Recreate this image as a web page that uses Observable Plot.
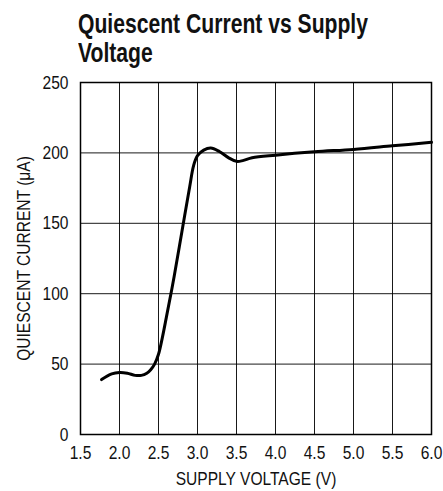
<!DOCTYPE html>
<html>
<head>
<meta charset="utf-8">
<script src="https://cdn.jsdelivr.net/npm/d3@7"></script>
<script src="https://cdn.jsdelivr.net/npm/@observablehq/plot@0.6"></script>
<style>
  html, body { margin: 0; padding: 0; background: #fff; }
  #title {
    height: 70px; box-sizing: border-box; padding: 9px 0 0 78px;
    font-family: "Liberation Sans", Arial, sans-serif;
    font-weight: bold; font-size: 28px; line-height: 29px; color: #111;
    white-space: nowrap; overflow: hidden;
  }
  #title span { display: inline-block; transform-origin: 0 0; }
  svg { display: block; }
</style>
</head>
<body>
<div id="title"><span id="t1">Quiescent Current vs Supply</span><br><span id="t2">Voltage</span></div>
<div id="chart"></div>
<script>
const voltage = [1.77, 1.9, 2.0, 2.1, 2.2, 2.28, 2.35, 2.4, 2.45, 2.5, 2.55, 2.6, 2.7, 2.8, 2.9, 2.95, 3.0, 3.08, 3.17, 3.28, 3.4, 3.5, 3.58, 3.7, 4.0, 4.5, 5.0, 5.5, 6.0];
const current = [39, 43, 44, 43.5, 42, 42, 43.5, 46, 50, 57, 69, 83, 112, 144, 176, 191, 198, 202, 203.5, 201, 196.5, 194, 194.5, 196.5, 198.4, 200.8, 202.5, 205, 207.5];
const xTicks = [1.5, 2.0, 2.5, 3.0, 3.5, 4.0, 4.5, 5.0, 5.5, 6.0];
const yTicks = [0, 50, 100, 150, 200, 250];

const data = voltage.map((v, i) => ({v, c: current[i]}));
const font = '"Liberation Sans", Arial, sans-serif';

const chart = Plot.plot({
  width: 443, height: 421,
  marginTop: 12, marginLeft: 80, marginRight: 12, marginBottom: 57,
  style: {fontFamily: font, fontSize: "19px", color: "#111", background: "#fff"},
  x: {domain: [1.5, 6.0]},
  y: {domain: [0, 250]},
  marks: [
    Plot.gridX(xTicks, {stroke: "#000", strokeOpacity: 0.9, strokeWidth: 1}),
    Plot.gridY(yTicks, {stroke: "#000", strokeOpacity: 0.9, strokeWidth: 1}),
    Plot.frame({stroke: "#000", strokeWidth: 1.5}),
    Plot.axisX(xTicks, {tickSize: 0, tickPadding: 11, tickFormat: d => d.toFixed(1), fontSize: 19,
      label: "SUPPLY VOLTAGE (V)", labelAnchor: "center", labelOffset: 50, labelArrow: "none"}),
    Plot.axisY(yTicks, {tickSize: 0, tickPadding: 12, fontSize: 19,
      label: "QUIESCENT CURRENT (μA)", labelAnchor: "center", labelOffset: 64, labelArrow: "none"}),
    Plot.line(data, {x: "v", y: "c", curve: "catmull-rom", stroke: "#000", strokeWidth: 3})
  ]
});
document.getElementById("chart").appendChild(chart);

// condense all text horizontally (along its own direction), like a condensed typeface
chart.querySelectorAll("text").forEach(t => {
  const tr = t.getAttribute("transform") || "";
  t.setAttribute("transform", tr + " scale(0.82,1)");
});

// condense title to the reference width
const t1 = document.getElementById("t1"), t2 = document.getElementById("t2");
const s = 290 / t1.getBoundingClientRect().width;
t1.style.transform = `scaleX(${s})`;
t2.style.transform = `scaleX(${s})`;
</script>
</body>
</html>
